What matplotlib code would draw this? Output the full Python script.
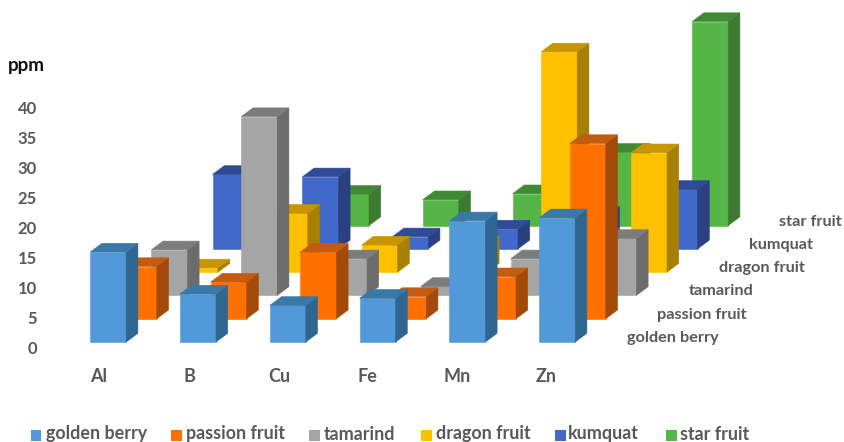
import matplotlib
matplotlib.use("Agg")
import matplotlib.pyplot as plt
from matplotlib.patches import Polygon, Rectangle

plt.rcParams['font.family'] = ['Lato', 'DejaVu Sans']

# ppm per element, one list per fruit (front row first)
elements = ["Al", "B", "Cu", "Fe", "Mn", "Zn"]
fruits = ["golden berry", "passion fruit", "tamarind", "dragon fruit", "kumquat", "star fruit"]
golden_berry = [15.0, 8.0, 6.1, 7.3, 20.2, 20.7]
passion_fruit = [8.7, 6.1, 11.1, 3.7, 7.0, 29.2]
tamarind = [7.6, 29.8, 6.1, 1.5, 6.1, 9.5]
dragon_fruit = [0.7, 9.8, 4.5, 4.5, 36.7, 19.9]
kumquat = [12.4, 12.0, 2.0, 3.3, 5.6, 9.9]
star_fruit = [0.0, 5.2, 4.3, 5.3, 12.2, 34.0]
series = [golden_berry, passion_fruit, tamarind, dragon_fruit, kumquat, star_fruit]
ticks = [0, 5, 10, 15, 20, 25, 30, 35, 40]

# front, side, top shades
colors = [
    ("#5299D9", "#2F6690", "#3A78A8"),
    ("#FF7000", "#A34A08", "#C55A11"),
    ("#A5A5A5", "#6C6C6C", "#7C7C7C"),
    ("#FFC000", "#A88000", "#C69500"),
    ("#4269C9", "#2A4080", "#2F4A96"),
    ("#55B546", "#3B7A2F", "#3F8B33"),
]

W, H = 844, 442
CAT = 89.8       # pixels per category
PPM = 6.0        # pixels per ppm
X0, Y0 = 90.2, 342.0

# oblique projection, all in axis units
bar_w = 36.0 / CAT
row_dx = 30.6 / CAT
row_dy = 23.3 / PPM
side_dx = 11.7 / CAT
side_dy = 8.7 / PPM


def add_bar(ax, cat, row, value, shades):
    x = cat + row * row_dx
    base = row * row_dy
    top = base + value
    front, side, cap = shades
    faces = [
        ([(x, base), (x + bar_w, base), (x + bar_w, top), (x, top)], front),
        ([(x + bar_w, base), (x + bar_w + side_dx, base + side_dy),
          (x + bar_w + side_dx, top + side_dy), (x + bar_w, top)], side),
        ([(x, top), (x + bar_w, top), (x + bar_w + side_dx, top + side_dy),
          (x + side_dx, top + side_dy)], cap),
    ]
    for pts, c in faces:
        ax.add_patch(Polygon(pts, closed=True, facecolor=c, edgecolor=c, linewidth=0.4))


def px_text(fig, x, y, s, size, ha="left", color="#595959"):
    fig.text(x / W, 1 - y / H, s, fontsize=size, ha=ha, va="center",
             color=color, fontweight="bold")


fig = plt.figure(figsize=(W / 100, H / 100), dpi=100)
ax = fig.add_axes([0, 0, 1, 1])
ax.set_xlim(-X0 / CAT, (W - X0) / CAT)
ax.set_ylim((Y0 - H) / PPM, Y0 / PPM)
ax.axis("off")

# back row first so nearer bars cover it
for row in range(len(series) - 1, -1, -1):
    for cat, value in enumerate(series[row]):
        if value > 0:
            add_bar(ax, cat, row, value, colors[row])

px_text(fig, 8, 66, "ppm", 13.5, color="#111111")
for t in ticks:
    px_text(fig, 37, 349 - t * PPM, str(t), 12, ha="right")

cat_x = [99, 189, 279, 367, 457, 546]
for x, name in zip(cat_x, elements):
    px_text(fig, x, 376, name, 13, ha="center")

row_label_x = [627, 657, 689, 719, 749, 779]
row_label_y = [338, 315, 291, 268, 245, 222]
for x, y, name in zip(row_label_x, row_label_y, fruits):
    px_text(fig, x, y, name, 11.7)

# legend along the bottom edge
swatch_x = [31, 171, 309, 421, 555, 666]
label_x = [46, 186, 324, 436, 568, 680]
for i, name in enumerate(fruits):
    fig.add_artist(Rectangle((swatch_x[i] / W, 1 - 440.5 / H), 10.5 / W, 10.5 / H,
                             transform=fig.transFigure, facecolor=colors[i][0], edgecolor="none"))
    px_text(fig, label_x[i], 434, name, 12.9)

fig.savefig("out.png", dpi=100)
